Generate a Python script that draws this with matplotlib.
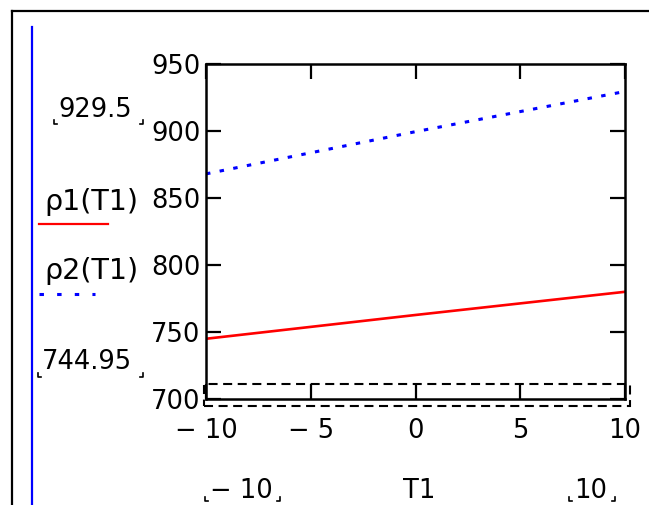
import matplotlib
matplotlib.use("Agg")
import matplotlib.pyplot as plt
from matplotlib.lines import Line2D
from matplotlib.patches import Rectangle

# data
T1 = [-10, 0, 10]
rho1 = [744.95, 762.7, 780.0]
rho2 = [868.0, 899.5, 929.5]
xticks = [-10, -5, 0, 5, 10]
xticklabels = ["\u2212 10", "\u2212 5", "0", "5", "10"]
yticks = [700, 750, 800, 850, 900, 950]
ylim = (700, 950)
xlim = (-10, 10)
upper_label, lower_label = "929.5", "744.95"
xmin_label, xmax_label = "\u2212 10", "10"

W, H = 649, 505
FONT = "DejaVu Sans"
FS = 18.5

plt.rcParams["lines.scale_dashes"] = False
fig = plt.figure(figsize=(W / 100, H / 100), dpi=100)


def px(x, y):
    return x / W, 1 - y / H


def fline(xs, ys, **kw):
    fx = [x / W for x in xs]
    fy = [1 - y / H for y in ys]
    fig.add_artist(Line2D(fx, fy, transform=fig.transFigure, **kw))


def ftext(x, y, s, size=FS, **kw):
    fig.text(*px(x, y), s, fontsize=size, family=FONT, color="black", **kw)


def brackets(x0, x1, y):
    # little Mathcad placeholder corners
    fline([x0, x0, x0 + 3], [y - 4, y, y], color="black", lw=1.2)
    fline([x1 - 3, x1, x1], [y, y, y - 4], color="black", lw=1.2)


# region frame
fline([12, 12], [11, H], color="black", lw=1.6)
fline([12, W], [11, 11], color="black", lw=1.6)
fline([31.5, 31.5], [27, H], color="#0000ff", lw=1.6)

ax = fig.add_axes([206 / W, 1 - 399 / H, 419 / W, 335 / H])
ax.plot(T1, rho1, color="#ff0000", lw=1.9)
ax.plot(T1, rho2, color="#0000ff", lw=2.2, linestyle=(0, (3.2, 6.8)))
ax.set_xlim(*xlim)
ax.set_ylim(*ylim)
ax.set_xticks(xticks)
ax.set_xticklabels(xticklabels)
ax.set_yticks(yticks)
ax.tick_params(direction="in", length=11, width=1.6, top=True, right=True,
               labelsize=FS, colors="black")
ax.tick_params(axis="x", pad=13.5)
ax.tick_params(axis="y", pad=4)
for lab in ax.get_xticklabels() + ax.get_yticklabels():
    lab.set_family(FONT)
for sp in ax.spines.values():
    sp.set_linewidth(1.8)

# dashed box around the x axis
fig.add_artist(Rectangle(px(204, 406), 426 / W, 22 / H, transform=fig.transFigure,
                         fill=False, edgecolor="black", lw=1.5,
                         linestyle=(0, (6.5, 4))))

# left side labels
ftext(95, 110, upper_label, ha="center", va="center")
brackets(54, 143, 124)
ftext(44, 210, "\u03c11(T1)", size=20.5, ha="left", va="baseline")
fline([39, 108], [224, 224], color="#ff0000", lw=1.6)
ftext(44, 279, "\u03c12(T1)", size=20.5, ha="left", va="baseline")
fline([39, 95], [294, 294], color="#0000ff", lw=2.2, linestyle=(0, (3.2, 9.5)))
ftext(87, 362, lower_label, ha="center", va="center")
brackets(38, 143, 377)

# bottom labels
ftext(241, 498, xmin_label, ha="center", va="baseline")
brackets(205, 280, 501)
ftext(419, 498, "T1", ha="center", va="baseline")
ftext(591, 498, xmax_label, ha="center", va="baseline")
brackets(569, 615, 501)

fig.savefig("out.png", dpi=100)
